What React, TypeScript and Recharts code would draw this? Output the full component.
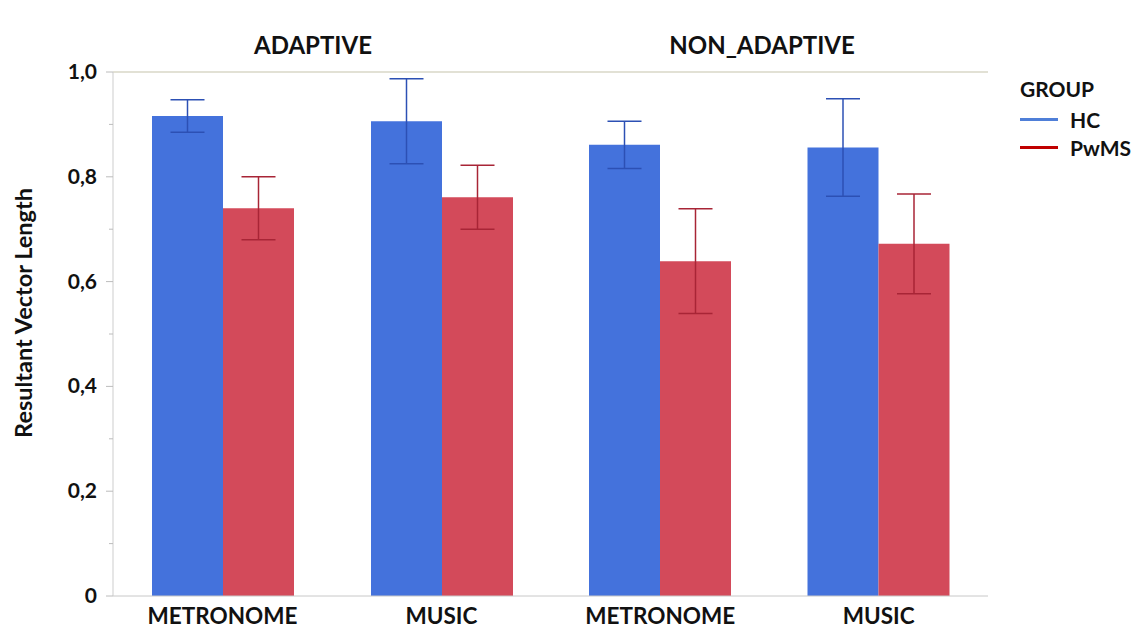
import React from "react";
import {
  BarChart, Bar, XAxis, YAxis, ErrorBar, ReferenceLine, Legend,
} from "recharts";

// panels + categories
const PANELS = ["ADAPTIVE", "NON_ADAPTIVE"];
const CUES = ["METRONOME", "MUSIC"];

// means (resultant vector length)
const hcAdaptive = [0.916, 0.906];
const pwmsAdaptive = [0.74, 0.761];
const hcNonAdaptive = [0.861, 0.856];
const pwmsNonAdaptive = [0.639, 0.672];

// error bar half-lengths
const hcAdaptiveErr = [0.031, 0.081];
const pwmsAdaptiveErr = [0.06, 0.061];
const hcNonAdaptiveErr = [0.045, 0.093];
const pwmsNonAdaptiveErr = [0.1, 0.095];

const Y_TICKS = [0, 0.1, 0.2, 0.3, 0.4, 0.5, 0.6, 0.7, 0.8, 0.9, 1.0];

const BLUE = "#4472dc";
const RED = "#d34a5a";
const LEGEND_COLORS: Record<string, string> = { HC: "#4f7fd8", PwMS: "#c00000" };
const FONT = "Lato, 'Open Sans', sans-serif";

const buildRows = (hc: number[], hcErr: number[], pw: number[], pwErr: number[]) =>
  CUES.map((cue, i) => ({ cue, hc: hc[i], hcErr: hcErr[i], pwms: pw[i], pwmsErr: pwErr[i] }));

const adaptiveRows = buildRows(hcAdaptive, hcAdaptiveErr, pwmsAdaptive, pwmsAdaptiveErr);
const nonAdaptiveRows = buildRows(hcNonAdaptive, hcNonAdaptiveErr, pwmsNonAdaptive, pwmsNonAdaptiveErr);

const fmtTick = (v: number) => (v === 0 ? "0" : v.toFixed(1).replace(".", ","));

function YTick(props: any) {
  const { x, y, payload } = props;
  const v = payload.value as number;
  const major = Math.round(v * 10) % 2 === 0;
  return (
    <g>
      <line x1={x} x2={x - (major ? 7 : 4)} y1={y} y2={y} stroke="#bcbcbc" />
      {major && (
        <text x={x - 16} y={y} dy={7} textAnchor="end" fontFamily={FONT} fontWeight={700} fontSize={21} fill="#111">
          {fmtTick(v)}
        </text>
      )}
    </g>
  );
}

function GroupLegend(props: any) {
  const items = (props.payload ?? []) as { value: string }[];
  return (
    <div style={{ fontFamily: FONT, fontWeight: 700, fontSize: 21, color: "#111" }}>
      <div style={{ marginBottom: 4 }}>GROUP</div>
      {items.map((it) => (
        <div key={it.value} style={{ display: "flex", alignItems: "center", height: 28 }}>
          <span style={{ display: "inline-block", width: 38, height: 3, background: LEGEND_COLORS[it.value], marginRight: 12 }} />
          {it.value}
        </div>
      ))}
    </div>
  );
}

const xTick = { fontFamily: FONT, fontWeight: 700, fontSize: 22.5, fill: "#111" };

function Bars() {
  return [
    <Bar key="hc" dataKey="hc" name="HC" fill={BLUE} barSize={71} isAnimationActive={false}>
      <ErrorBar dataKey="hcErr" width={17} stroke="#2c50b4" strokeWidth={1.5} direction="y" />
    </Bar>,
    <Bar key="pwms" dataKey="pwms" name="PwMS" fill={RED} barSize={71} isAnimationActive={false}>
      <ErrorBar dataKey="pwmsErr" width={17} stroke="#a82536" strokeWidth={1.5} direction="y" />
    </Bar>,
  ];
}

export default function App() {
  const titleStyle: React.CSSProperties = {
    position: "absolute", top: 30, fontFamily: FONT, fontWeight: 700, fontSize: 24,
    color: "#111", transform: "translateX(-50%)", whiteSpace: "nowrap",
  };
  return (
    <div style={{ position: "absolute", left: 0, top: 0, width: 1148, height: 632, background: "#fff" }}>
      <div style={{ ...titleStyle, left: 313 }}>{PANELS[0]}</div>
      <div style={{ ...titleStyle, left: 762 }}>{PANELS[1]}</div>

      <div
        style={{
          position: "absolute", left: 23, top: 313, transform: "translate(-50%, -50%) rotate(-90deg)",
          fontFamily: FONT, fontWeight: 700, fontSize: 23.5, color: "#111", whiteSpace: "nowrap",
        }}
      >
        Resultant Vector Length
      </div>

      <div style={{ position: "absolute", left: 0, top: 0 }}>
        <BarChart width={551} height={632} data={adaptiveRows} barGap={0}
          margin={{ top: 72, right: 0, left: 0, bottom: 6 }}>
          <XAxis dataKey="cue" height={30} tickLine={false} axisLine={{ stroke: "#c8c8c8" }} tick={xTick} tickMargin={6} />
          <YAxis yAxisId="l" domain={[0, 1]} ticks={Y_TICKS} width={113} tickSize={0} tickMargin={0}
            tickLine={false} axisLine={{ stroke: "#cdcdcd" }} tick={<YTick />} interval={0} />
          <YAxis yAxisId="r" orientation="right" domain={[0, 1]} width={0} tick={false} tickLine={false}
            axisLine={{ stroke: "#d6d6d6" }} />
          <ReferenceLine yAxisId="l" y={1} stroke="#e2e1d5" strokeWidth={2} />
          {Bars().map((b) => React.cloneElement(b, { yAxisId: "l" }))}
        </BarChart>
      </div>

      <div style={{ position: "absolute", left: 551, top: 0 }}>
        <BarChart width={597} height={632} data={nonAdaptiveRows} barGap={0}
          margin={{ top: 72, right: 30, left: 0, bottom: 6 }}>
          <XAxis dataKey="cue" height={30} tickLine={false} axisLine={{ stroke: "#c8c8c8" }} tick={xTick} tickMargin={6} />
          <YAxis yAxisId="l" domain={[0, 1]} hide />
          <YAxis yAxisId="r" orientation="right" domain={[0, 1]} width={0} tick={false} tickLine={false}
            axisLine={{ stroke: "#d6d6d6" }} />
          <ReferenceLine yAxisId="l" y={1} stroke="#e2e1d5" strokeWidth={2} />
          {Bars().map((b) => React.cloneElement(b, { yAxisId: "l" }))}
          <Legend content={<GroupLegend />} layout="vertical" verticalAlign="top" align="right"
            wrapperStyle={{ left: 469, top: 76, width: 130 }} />
        </BarChart>
      </div>
    </div>
  );
}
